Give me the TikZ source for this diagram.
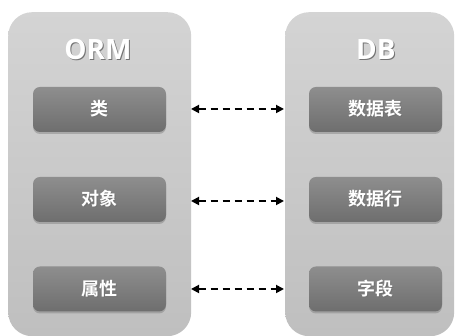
\documentclass[tikz,border=0pt]{standalone}
\usepackage{fontspec}
\setmainfont{Noto Sans CJK SC Bold}
\newfontfamily\titlefont{Open Sans Bold}
\usetikzlibrary{arrows.meta,shadows,fadings}
\definecolor{contbg}{HTML}{C9C9C9}
\definecolor{boxtop}{HTML}{8E8E8E}
\definecolor{boxbot}{HTML}{6E6E6E}
\newcommand{\shtext}[1]{\rlap{\kern1pt\raisebox{-1pt}{\textcolor{black!55}{#1}}}#1}
\tikzset{
  container/.style={draw=none, rounded corners=24pt,
    top color=contbg!80!white, bottom color=contbg!95!black},
  itembox/.style={draw=none, rounded corners=7pt, top color=boxtop, bottom color=boxbot,
    drop shadow={shadow xshift=0pt, shadow yshift=-2pt, opacity=0.35, fill=black!60},
    minimum width=133pt, minimum height=45pt, inner sep=0pt,
    text=white, font=\fontsize{18}{18}\selectfont},
  title/.style={text=white, font=\titlefont\fontsize{28}{28}\selectfont, inner sep=0pt},
  link/.style={dash pattern=on 7pt off 5pt, line width=1.8pt,
    {Triangle[length=8pt,width=8pt]}-{Triangle[length=8pt,width=8pt]}}
}
\begin{document}
\begin{tikzpicture}[x=1pt,y=1pt]
\useasboundingbox (0,0) rectangle (461,336);
\fill[white] (0,0) rectangle (461,336);
\node[container, minimum width=183pt, minimum height=324pt, anchor=north west] (orm) at (8,324) {};
\node[container, minimum width=169pt, minimum height=324pt, anchor=north west] (db) at (285,324) {};
\node[title] (ormt) at (98,286) {\shtext{ORM}};
\node[title] (dbt) at (376,286) {\shtext{DB}};
\node[itembox] (cls) at (99.5,226.5) {\shtext{类}};
\node[itembox] (obj) at (99.5,136.5) {\shtext{对象}};
\node[itembox] (attr) at (99.5,47) {\shtext{属性}};
\node[itembox] (tbl) at (375.5,226.5) {\shtext{数据表}};
\node[itembox] (row) at (375.5,136.5) {\shtext{数据行}};
\node[itembox] (fld) at (375.5,47) {\shtext{字段}};
\coordinate (a1) at (191,227); \coordinate (b1) at (284,227);
\coordinate (a2) at (191,135); \coordinate (b2) at (284,135);
\coordinate (a3) at (191,47); \coordinate (b3) at (284,47);
\draw[link] (a1) -- (b1);
\draw[link] (a2) -- (b2);
\draw[link] (a3) -- (b3);
\end{tikzpicture}
\end{document}
